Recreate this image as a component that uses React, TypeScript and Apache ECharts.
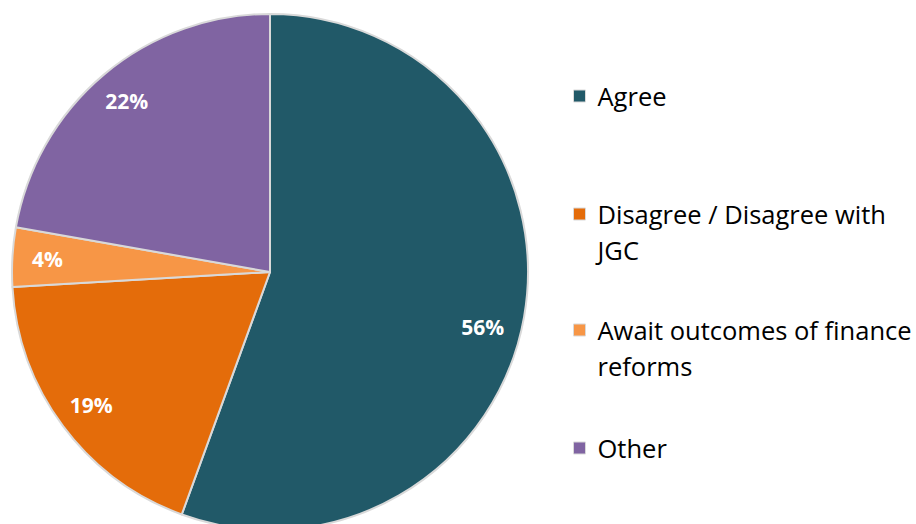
import React, { useEffect, useRef } from "react";
import * as echarts from "echarts";

const categories = [
  "Agree",
  "Disagree / Disagree with JGC",
  "Await outcomes of finance reforms",
  "Other",
];
const legendLabels = [
  "Agree",
  "\nDisagree / Disagree with\nJGC",
  "\nAwait outcomes of finance\nreforms",
  "Other",
];
const counts = [15, 5, 1, 6];
const colors = ["#215968", "#E46C0A", "#F79646", "#8064A2"];

export default function App() {
  const ref = useRef<HTMLDivElement>(null);
  useEffect(() => {
    document.body.style.margin = "0";
    const chart = echarts.init(ref.current!, undefined, { renderer: "svg" });
    const total = counts.reduce((a, b) => a + b, 0);
    const data = categories.map((name, i) => ({
      name,
      value: counts[i],
      itemStyle: { color: colors[i] },
    }));
    const font = "'Open Sans', 'Noto Sans', sans-serif";
    const lineH = 36;
    const firstLineCenters = [96, 214, 330, 448];
    const legends = categories.map((name, i) => {
      const nLines = legendLabels[i].split("\n").length;
      return {
        orient: "vertical",
        left: 573,
        top: firstLineCenters[i] - (nLines * lineH) / 2,
        padding: 0,
        itemWidth: 12,
        itemHeight: 12,
        icon: "rect",
        selectedMode: false,
        data: [name],
        formatter: () => legendLabels[i],
        itemStyle: { borderColor: "#D9D9D9", borderWidth: 1 },
        textStyle: {
          fontFamily: font,
          fontSize: 25.5,
          lineHeight: lineH,
          color: "#000",
          padding: [0, 0, 0, 7],
        },
      };
    });
    chart.setOption({
      animation: false,
      backgroundColor: "#fff",
      legend: legends,
      series: [
        {
          type: "pie",
          center: [270, 272],
          radius: 258,
          startAngle: 90,
          clockwise: true,
          data,
          label: { show: false },
          labelLine: { show: false },
          itemStyle: { borderColor: "#D9D9D9", borderWidth: 2 },
          emphasis: { disabled: true },
        },
        {
          type: "pie",
          center: [270, 272],
          radius: [182, 258],
          startAngle: 90,
          clockwise: true,
          silent: true,
          legendHoverLink: false,
          data: categories.map((name, i) => ({
            name,
            value: counts[i],
            itemStyle: { color: "transparent", borderWidth: 0 },
            label: i === 0 ? { offset: [-7, 16] } : {},
          })),
          label: {
            show: true,
            position: "inside",
            formatter: (p: any) => Math.round((p.value / total) * 100) + "%",
            color: "#fff",
            fontFamily: font,
            fontWeight: "bold",
            fontSize: 21,
          },
          labelLine: { show: false },
          emphasis: { disabled: true },
        },
      ],
    });
    return () => chart.dispose();
  }, []);
  return <div ref={ref} style={{ width: 916, height: 524 }} />;
}
